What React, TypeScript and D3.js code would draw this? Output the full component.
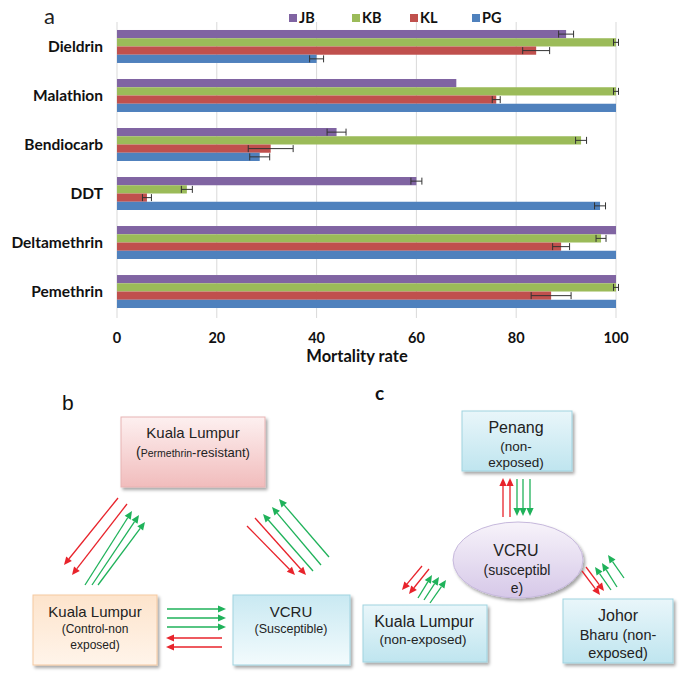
import React from "react";
import * as d3 from "d3";

const categories = ["Dieldrin", "Malathion", "Bendiocarb", "DDT", "Deltamethrin", "Pemethrin"];
const seriesNames = ["JB", "KB", "KL", "PG"];
const jbValues = [90, 68, 44, 60, 100, 100];
const jbErrors = [1.5, 0, 1.9, 1.1, 0, 0];
const kbValues = [100, 100, 93, 14, 97, 100];
const kbErrors = [0.5, 0.5, 1.1, 1.1, 1, 0.5];
const klValues = [84, 76, 30.8, 6, 89, 87];
const klErrors = [2.7, 0.8, 4.5, 0.9, 1.7, 4];
const pgValues = [40, 100, 28.6, 96.8, 100, 100];
const pgErrors = [1.4, 0, 2, 1.1, 0, 0];
const xTicks = [0, 20, 40, 60, 80, 100];
const seriesColors = ["#8064A2", "#9BBB59", "#C0504D", "#4F81BD"];

const valuesBySeries = [jbValues, kbValues, klValues, pgValues];
const errorsBySeries = [jbErrors, kbErrors, klErrors, pgErrors];

const RED = "#e8232b";
const GREEN = "#1fb25a";

type Arrow = { x1: number; y1: number; x2: number; y2: number; c: string };

// Diagram arrows (layout)
const arrowsB: Arrow[] = [
  { x1: 118, y1: 498, x2: 64, y2: 565, c: RED },
  { x1: 127, y1: 504, x2: 72, y2: 575, c: RED },
  { x1: 85, y1: 585, x2: 132, y2: 511, c: GREEN },
  { x1: 92, y1: 585, x2: 139, y2: 515, c: GREEN },
  { x1: 98, y1: 585, x2: 145, y2: 522, c: GREEN },
  { x1: 247, y1: 526, x2: 295, y2: 575, c: RED },
  { x1: 255, y1: 518, x2: 306, y2: 575, c: RED },
  { x1: 313, y1: 571, x2: 263, y2: 514, c: GREEN },
  { x1: 321, y1: 565, x2: 272, y2: 507, c: GREEN },
  { x1: 329, y1: 557, x2: 279, y2: 499, c: GREEN },
  { x1: 167, y1: 609, x2: 226, y2: 609, c: GREEN },
  { x1: 167, y1: 618, x2: 226, y2: 618, c: GREEN },
  { x1: 167, y1: 627, x2: 226, y2: 627, c: GREEN },
  { x1: 222, y1: 638, x2: 166, y2: 638, c: RED },
  { x1: 222, y1: 647, x2: 166, y2: 647, c: RED },
];
const arrowsC: Arrow[] = [
  { x1: 503, y1: 517, x2: 503, y2: 478, c: RED },
  { x1: 510, y1: 517, x2: 510, y2: 478, c: RED },
  { x1: 517, y1: 479, x2: 517, y2: 516, c: GREEN },
  { x1: 523, y1: 479, x2: 523, y2: 516, c: GREEN },
  { x1: 530, y1: 479, x2: 530, y2: 516, c: GREEN },
  { x1: 422, y1: 566, x2: 402, y2: 590, c: RED },
  { x1: 429, y1: 569, x2: 409, y2: 594, c: RED },
  { x1: 418, y1: 598, x2: 432, y2: 575, c: GREEN },
  { x1: 424, y1: 600, x2: 439, y2: 577, c: GREEN },
  { x1: 430, y1: 603, x2: 446, y2: 580, c: GREEN },
  { x1: 582, y1: 571, x2: 600, y2: 595, c: RED },
  { x1: 586, y1: 567, x2: 604, y2: 591, c: RED },
  { x1: 611, y1: 590, x2: 595, y2: 567, c: GREEN },
  { x1: 617, y1: 587, x2: 602, y2: 563, c: GREEN },
  { x1: 624, y1: 578, x2: 608, y2: 555, c: GREEN },
];

const FONT_A = "Lato, 'Open Sans', sans-serif";
const FONT_D = "'Liberation Sans', Arial, sans-serif";

function ArrowLine({ a }: { a: Arrow }) {
  const ang = Math.atan2(a.y2 - a.y1, a.x2 - a.x1);
  const L = 8, W = 3.6;
  const bx = a.x2 - L * Math.cos(ang), by = a.y2 - L * Math.sin(ang);
  const px = -Math.sin(ang) * W, py = Math.cos(ang) * W;
  const pts = `${a.x2},${a.y2} ${bx + px},${by + py} ${bx - px},${by - py}`;
  return (
    <g>
      <line x1={a.x1} y1={a.y1} x2={bx} y2={by} stroke={a.c} strokeWidth={1.3} />
      <polygon points={pts} fill={a.c} />
    </g>
  );
}

function Box({ x, y, w, h, grad, stroke }: { x: number; y: number; w: number; h: number; grad: string; stroke: string }) {
  return <rect x={x} y={y} width={w} height={h} fill={`url(#${grad})`} stroke={stroke} strokeWidth={1} filter="url(#shadow)" />;
}

export default function App() {
  const W = 685, H = 673;
  const x = d3.scaleLinear().domain([0, 100]).range([117, 616]);
  const y = d3.scaleBand<string>().domain(categories).range([22, 316]).paddingInner(0.327).paddingOuter(0.163);
  const ys = d3.scaleBand<string>().domain(seriesNames).range([0, y.bandwidth()]);

  const legendX = [289, 352, 410, 472];

  return (
    <svg width={W} height={H} style={{ position: "absolute", left: 0, top: 0, background: "#fff" }}>
      <defs>
        <filter id="shadow" x="-10%" y="-10%" width="130%" height="140%">
          <feDropShadow dx="2" dy="2.5" stdDeviation="1.5" floodColor="#000" floodOpacity="0.35" />
        </filter>
        <linearGradient id="gPink" x1="0" y1="0" x2="0" y2="1">
          <stop offset="0" stopColor="#fdf0f0" />
          <stop offset="1" stopColor="#f1bcbc" />
        </linearGradient>
        <linearGradient id="gOrange" x1="0" y1="0" x2="0" y2="1">
          <stop offset="0" stopColor="#fde4cc" />
          <stop offset="1" stopColor="#fff4ea" />
        </linearGradient>
        <linearGradient id="gBlue" x1="0" y1="0" x2="0" y2="1">
          <stop offset="0" stopColor="#e9f6fa" />
          <stop offset="1" stopColor="#bfe5ef" />
        </linearGradient>
        <linearGradient id="gBlue2" x1="0" y1="0" x2="0" y2="1">
          <stop offset="0" stopColor="#c9e9f2" />
          <stop offset="1" stopColor="#f3fbfd" />
        </linearGradient>
        <linearGradient id="gLav" x1="0" y1="0" x2="0" y2="1">
          <stop offset="0" stopColor="#f7f3fa" />
          <stop offset="1" stopColor="#d6c8e8" />
        </linearGradient>
      </defs>

      {/* Panel a */}
      <text x={44} y={24} fontFamily={FONT_A} fontSize={22} fill="#222">a</text>
      {xTicks.map((t) => (
        <g key={t}>
          <line x1={x(t)} x2={x(t)} y1={22} y2={318} stroke="#d9d9d9" strokeWidth={1} />
          <text x={x(t)} y={343} textAnchor="middle" fontFamily={FONT_A} fontWeight={700} fontSize={14.5} fill="#111">{t}</text>
        </g>
      ))}
      <text x={357} y={362} textAnchor="middle" fontFamily={FONT_A} fontWeight={700} fontSize={16.5} fill="#111">Mortality rate</text>

      {categories.map((cat, ci) => (
        <g key={cat}>
          <text x={103} y={(y(cat) as number) + y.bandwidth() / 2 + 5.5} textAnchor="end" fontFamily={FONT_A} fontWeight={700} fontSize={15.5} fill="#111">{cat}</text>
          {seriesNames.map((s, si) => {
            const v = valuesBySeries[si][ci];
            const e = errorsBySeries[si][ci];
            const by = (y(cat) as number) + (ys(s) as number);
            const bh = ys.bandwidth();
            const cy = by + bh / 2;
            return (
              <g key={s}>
                <rect x={x(0)} y={by} width={x(v) - x(0)} height={bh} fill={seriesColors[si]} />
                {e > 0 && (
                  <g stroke="#333" strokeWidth={1}>
                    <line x1={x(v - e)} x2={x(v + e)} y1={cy} y2={cy} />
                    <line x1={x(v - e)} x2={x(v - e)} y1={cy - 3.5} y2={cy + 3.5} />
                    <line x1={x(v + e)} x2={x(v + e)} y1={cy - 3.5} y2={cy + 3.5} />
                  </g>
                )}
              </g>
            );
          })}
        </g>
      ))}

      {seriesNames.map((s, si) => (
        <g key={s}>
          <rect x={legendX[si]} y={14} width={8} height={8} fill={seriesColors[si]} />
          <text x={legendX[si] + 10} y={23} fontFamily={FONT_A} fontWeight={700} fontSize={14.5} fill="#111">{s}</text>
        </g>
      ))}

      {/* Panel b */}
      <text x={62} y={410} fontFamily={FONT_D} fontSize={21} fill="#111">b</text>
      <Box x={121} y={417} w={144} h={70} grad="gPink" stroke="#e7b3b3" />
      <text x={193} y={438} textAnchor="middle" fontFamily={FONT_D} fontSize={15} fill="#222">Kuala Lumpur</text>
      <text x={193} y={457} textAnchor="middle" fontFamily={FONT_D} fill="#222">
        <tspan fontSize={14}>(</tspan>
        <tspan fontSize={10.5}>Permethrin</tspan>
        <tspan fontSize={13}>-resistant)</tspan>
      </text>

      <Box x={33} y={595} w={124} h={70} grad="gOrange" stroke="#f5c9a0" />
      <text x={95} y={617} textAnchor="middle" fontFamily={FONT_D} fontSize={15} fill="#222">Kuala Lumpur</text>
      <text x={95} y={633} textAnchor="middle" fontFamily={FONT_D} fontSize={12} fill="#222">(Control-non</text>
      <text x={95} y={649} textAnchor="middle" fontFamily={FONT_D} fontSize={12} fill="#222">exposed)</text>

      <Box x={233} y={595} w={117} h={70} grad="gBlue2" stroke="#9fd3e0" />
      <text x={291} y={617} textAnchor="middle" fontFamily={FONT_D} fontSize={15} fill="#222">VCRU</text>
      <text x={291} y={633} textAnchor="middle" fontFamily={FONT_D} fontSize={12.5} fill="#222">(Susceptible)</text>

      {arrowsB.map((a, i) => <ArrowLine key={i} a={a} />)}

      {/* Panel c */}
      <text x={375} y={400} fontFamily={FONT_A} fontWeight={700} fontSize={19} fill="#111">c</text>
      <Box x={462} y={411} w={110} h={60} grad="gBlue" stroke="#9fd3e0" />
      <text x={516} y={433} textAnchor="middle" fontFamily={FONT_D} fontSize={16} fill="#222">Penang</text>
      <text x={516} y={451} textAnchor="middle" fontFamily={FONT_D} fontSize={13.5} fill="#222">(non-</text>
      <text x={516} y={467} textAnchor="middle" fontFamily={FONT_D} fontSize={13.5} fill="#222">exposed)</text>

      <ellipse cx={518} cy={560} rx={65} ry={38} fill="url(#gLav)" stroke="#c6b8dc" strokeWidth={1} filter="url(#shadow)" />
      <text x={516} y={556} textAnchor="middle" fontFamily={FONT_D} fontSize={16} fill="#222">VCRU</text>
      <text x={517} y={575} textAnchor="middle" fontFamily={FONT_D} fontSize={14} fill="#222">(susceptibl</text>
      <text x={517} y={593} textAnchor="middle" fontFamily={FONT_D} fontSize={14} fill="#222">e)</text>

      <Box x={363} y={605} w={124} h={57} grad="gBlue" stroke="#9fd3e0" />
      <text x={424} y={627} textAnchor="middle" fontFamily={FONT_D} fontSize={16} fill="#222">Kuala Lumpur</text>
      <text x={423} y={644} textAnchor="middle" fontFamily={FONT_D} fontSize={13.5} fill="#222">(non-exposed)</text>

      <Box x={563} y={599} w={110} h={64} grad="gBlue" stroke="#9fd3e0" />
      <text x={618} y={621} textAnchor="middle" fontFamily={FONT_D} fontSize={16} fill="#222">Johor</text>
      <text x={618} y={640} textAnchor="middle" fontFamily={FONT_D} fontSize={14.5} fill="#222">Bharu (non-</text>
      <text x={618} y={658} textAnchor="middle" fontFamily={FONT_D} fontSize={14.5} fill="#222">exposed)</text>

      {arrowsC.map((a, i) => <ArrowLine key={i} a={a} />)}
    </svg>
  );
}
